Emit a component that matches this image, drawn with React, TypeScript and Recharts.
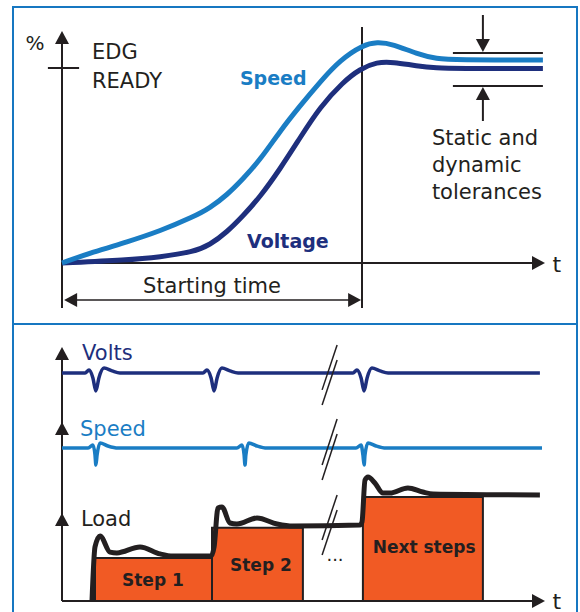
import React from "react";
import { ComposedChart, Line, XAxis, YAxis, ReferenceLine, ReferenceDot, ReferenceArea } from "recharts";

// ---- top panel: starting curve (t in time units, value in %) ----
const speedT = [0, 1.03, 2.17, 3.27, 4.37, 4.93, 5.5, 6.03, 6.6, 7.27, 7.93, 8.6, 9.27, 10.03, 10.5, 11.03, 11.83, 12.5, 13.1, 16.03];
const speedPct = [0, 5.5, 10.5, 16, 23, 27.5, 34, 42, 51.5, 66, 78.5, 90.5, 101.5, 109, 110.5, 109.5, 104.5, 102, 101.5, 101.5];
const voltageT = [0, 2.17, 3.27, 4.37, 4.93, 5.5, 6.03, 6.6, 7.27, 7.93, 8.6, 9.37, 9.93, 10.5, 11.03, 11.83, 12.5, 13.1, 16.03];
const voltagePct = [0, 1.5, 3, 5.5, 9, 15.5, 23.5, 33, 47, 62.5, 78, 90.5, 97, 100.5, 100.5, 98.5, 97.5, 97.25, 97.25];
const startingTime = 10;
const toleranceBand = [88.5, 105];

// ---- bottom panel: load steps ----
const voltsT = [0, 0.77, 0.9, 1.03, 1.13, 1.23, 1.4, 1.67, 1.93, 4.7, 4.83, 4.97, 5.07, 5.17, 5.33, 5.6, 5.87, 9.7, 9.83, 9.97, 10.07, 10.17, 10.33, 10.6, 10.87, 15.93];
const voltsV = [87.7, 87.7, 88.8, 85.8, 80.8, 85.8, 89.6, 88.5, 87.7, 87.7, 88.8, 85.8, 80.8, 85.8, 89.6, 88.5, 87.7, 87.7, 88.8, 85.8, 80.8, 85.8, 89.6, 88.5, 87.7, 87.7];
const speedBT = [0, 0.87, 1.03, 1.1, 1.13, 1.17, 1.27, 1.53, 1.87, 5.83, 6.0, 6.07, 6.1, 6.13, 6.23, 6.5, 6.83, 9.8, 9.97, 10.03, 10.07, 10.1, 10.2, 10.47, 10.8, 16];
const speedBV = [58.8, 58.8, 60, 56.2, 52.3, 56.2, 60.8, 59.6, 58.8, 58.8, 60, 56.2, 52.3, 56.2, 60.8, 59.6, 58.8, 58.8, 60, 56.2, 52.3, 56.2, 60.8, 59.6, 58.8, 58.8];
const loadT = [1.0, 1.1, 1.27, 1.6, 1.83, 2.6, 3.27, 3.7, 4.97, 5.07, 5.2, 5.33, 5.6, 5.83, 6.5, 7.17, 7.7, 9.93, 10.0, 10.1, 10.2, 10.43, 10.7, 10.93, 11.53, 12.03, 12.37, 15.93];
const loadV = [0, 20.8, 25.0, 18.8, 18.5, 20.8, 18.1, 17.3, 17.3, 20.8, 35.8, 36.2, 30.0, 29.6, 31.9, 29.6, 28.8, 29.2, 30.4, 46.5, 47.7, 45.4, 41.5, 41.5, 43.5, 41.9, 41.2, 40.8];
const stepNames = ["Step 1", "Step 2", "Next steps"];
const stepStart = [1.1, 5.0, 10.03];
const stepEnd = [5.0, 8.03, 14.03];
const stepLevel = [16.5, 28.2, 40];

const zip = (ts: number[], vs: number[]) => ts.map((t, i) => ({ t, v: vs[i] }));

const INK = "#231f20";
const LIGHT = "#1a7dc4";
const DARK = "#1e2f7d";
const ORANGE = "#f15a24";
const BORDER = "#1677c1";
const FONT = "'DejaVu Sans', sans-serif";

type Dir = "up" | "down" | "left" | "right";

function head(key: string, x: number, y: number, dir: Dir) {
  const shape = (p: any) => {
    const { cx, cy } = p;
    const L = 13, W = 7;
    let pts = "";
    if (dir === "up") pts = `${cx},${cy} ${cx - W},${cy + L} ${cx + W},${cy + L}`;
    if (dir === "down") pts = `${cx},${cy} ${cx - W},${cy - L} ${cx + W},${cy - L}`;
    if (dir === "right") pts = `${cx},${cy} ${cx - L},${cy - W} ${cx - L},${cy + W}`;
    if (dir === "left") pts = `${cx},${cy} ${cx + L},${cy - W} ${cx + L},${cy + W}`;
    return <polygon points={pts} fill={INK} />;
  };
  return <ReferenceDot key={key} x={x} y={y} r={0} ifOverflow="visible" shape={shape} />;
}

function seg(key: string, x1: number, y1: number, x2: number, y2: number, w = 2) {
  return (
    <ReferenceLine
      key={key}
      segment={[{ x: x1, y: y1 }, { x: x2, y: y2 }]}
      stroke={INK}
      strokeWidth={w}
      ifOverflow="visible"
    />
  );
}

function note(
  key: string,
  x: number,
  y: number,
  text: string,
  opt: { anchor?: string; size?: number; weight?: number; color?: string } = {}
) {
  const shape = (p: any) => (
    <text
      x={p.cx}
      y={p.cy}
      textAnchor={opt.anchor || "start"}
      dominantBaseline="central"
      fontSize={opt.size || 21}
      fontWeight={opt.weight || 400}
      fill={opt.color || INK}
      fontFamily={FONT}
    >
      {text}
    </text>
  );
  return <ReferenceDot key={key} x={x} y={y} r={0} ifOverflow="visible" shape={shape} />;
}

function TopChart() {
  return (
    <ComposedChart width={580} height={325} margin={{ top: 5, right: 8, bottom: 62, left: 62 }}>
      <XAxis type="number" dataKey="t" domain={[0, 17]} hide />
      <YAxis type="number" dataKey="v" domain={[0, 129]} hide />
      {/* axes */}
      {seg("yax", 0, -22.5, 0, 111)}
      {head("yh", 0, 116, "up")}
      {seg("tick", -0.47, 97.5, 0.57, 97.5)}
      {seg("xax", 0, 0, 15.7, 0)}
      {head("xh", 16.1, 0, "right")}
      {note("t", 16.35, -0.5, "t", { size: 22 })}
      {note("pct", -0.9, 110, "%", { anchor: "middle", size: 20 })}
      {note("edg", 1, 105.5, "EDG")}
      {note("ready", 1, 91, "READY")}
      {/* starting time */}
      {seg("st", startingTime, 118, startingTime, -22.5)}
      {seg("sta", 0.3, -18.5, startingTime - 0.3, -18.5, 1.5)}
      {head("stl", 0.07, -18.5, "left")}
      {head("str", startingTime - 0.03, -18.5, "right")}
      {note("stt", 5, -11.5, "Starting time", { anchor: "middle" })}
      {/* tolerances */}
      {seg("tolU", 13.03, toleranceBand[1], 16.03, toleranceBand[1])}
      {seg("tolL", 13.03, toleranceBand[0], 16.03, toleranceBand[0])}
      {seg("tolUa", 14.03, 124, 14.03, 110)}
      {head("tolUh", 14.03, toleranceBand[1] + 0.5, "down")}
      {seg("tolLa", 14.03, 71, 14.03, 83)}
      {head("tolLh", 14.03, toleranceBand[0] - 0.5, "up")}
      {note("s1", 12.33, 62.5, "Static and")}
      {note("s2", 12.33, 49, "dynamic")}
      {note("s3", 12.33, 35.5, "tolerances")}
      <Line data={zip(voltageT, voltagePct)} dataKey="v" type="basis" stroke={DARK} strokeWidth={5}
        dot={false} activeDot={false} isAnimationActive={false} />
      <Line data={zip(speedT, speedPct)} dataKey="v" type="basis" stroke={LIGHT} strokeWidth={5}
        dot={false} activeDot={false} isAnimationActive={false} />
      {note("spl", 5.93, 92.5, "Speed", { weight: 700, color: LIGHT, size: 19 })}
      {note("vol", 6.17, 11, "Voltage", { weight: 700, color: DARK, size: 19 })}
    </ComposedChart>
  );
}

function BottomChart() {
  return (
    <ComposedChart width={580} height={287} margin={{ top: 16, right: 8, bottom: 11, left: 62 }}>
      <XAxis type="number" dataKey="t" domain={[0, 17]} hide />
      <YAxis type="number" dataKey="v" domain={[0, 100]} hide />
      {stepNames.map((n, i) => (
        <ReferenceArea key={n} x1={stepStart[i]} x2={stepEnd[i]} y1={0} y2={stepLevel[i]}
          fill={ORANGE} fillOpacity={1} stroke={INK} strokeWidth={2} ifOverflow="visible" />
      ))}
      {seg("yax", 0, 0, 0, 94.6)}
      {head("vh", 0, 97.7, "up")}
      {head("sh", 0, 68.8, "up")}
      {head("lh", 0, 33.8, "up")}
      {seg("xax", 0, 0, 15.7, 0)}
      {head("xh", 16.1, 0, "right")}
      {note("t", 16.35, 0, "t", { size: 22 })}
      {note("vl", 0.67, 95.4, "Volts", { color: DARK })}
      {note("sl", 0.6, 66.2, "Speed", { color: LIGHT })}
      {note("ll", 0.63, 31.5, "Load")}
      <Line data={zip(voltsT, voltsV)} dataKey="v" type="monotone" stroke={DARK} strokeWidth={3.5}
        dot={false} activeDot={false} isAnimationActive={false} />
      <Line data={zip(speedBT, speedBV)} dataKey="v" type="monotone" stroke={LIGHT} strokeWidth={3.5}
        dot={false} activeDot={false} isAnimationActive={false} />
      <Line data={zip(loadT, loadV)} dataKey="v" type="monotone" stroke={INK} strokeWidth={5}
        dot={false} activeDot={false} isAnimationActive={false} />
      {/* break marks */}
      {seg("b1", 8.67, 81.2, 9.17, 98.5, 1.5)}
      {seg("b2", 8.67, 75.4, 9.17, 92.7, 1.5)}
      {seg("b3", 8.67, 52.3, 9.17, 70, 1.5)}
      {seg("b4", 8.67, 46.5, 9.17, 64.2, 1.5)}
      {seg("b5", 8.67, 23.5, 9.17, 40.8, 1.5)}
      {seg("b6", 8.67, 17.7, 9.17, 35, 1.5)}
      {note("dots", 9.1, 17.7, "...", { anchor: "middle", size: 18 })}
      {note("st1", 3.03, 8.1, stepNames[0], { anchor: "middle", weight: 700, size: 17 })}
      {note("st2", 6.63, 13.8, stepNames[1], { anchor: "middle", weight: 700, size: 17 })}
      {note("st3", 12.07, 20.8, stepNames[2], { anchor: "middle", weight: 700, size: 17 })}
    </ComposedChart>
  );
}

export default function App() {
  return (
    <div style={{ position: "fixed", left: 0, top: 0, width: 580, height: 612, overflow: "hidden", background: "#fff" }}>
      <div style={{ position: "absolute", left: 12, top: 6, width: 562, height: 700, border: `2px solid ${BORDER}` }} />
      <div style={{ position: "absolute", left: 12, top: 323, width: 566, height: 2, background: BORDER }} />
      <div style={{ position: "absolute", left: 0, top: 0 }}>
        <TopChart />
      </div>
      <div style={{ position: "absolute", left: 0, top: 325 }}>
        <BottomChart />
      </div>
    </div>
  );
}
